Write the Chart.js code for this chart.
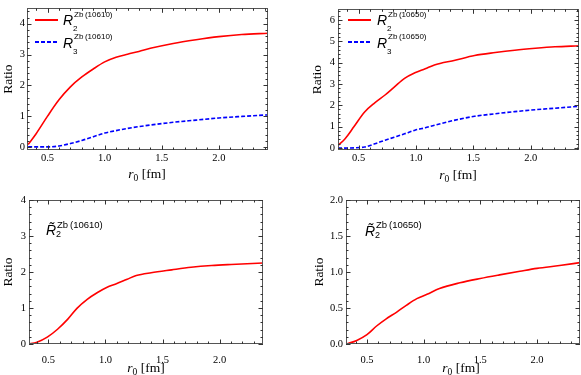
<!DOCTYPE html>
<html>
<head>
<meta charset="utf-8">
<script src="https://cdn.jsdelivr.net/npm/chart.js@4.4.1/dist/chart.umd.min.js"></script>
<style>
body { margin: 0; background: #fff; }
#wrap { position: relative; width: 581px; height: 375px; overflow: hidden; }
canvas { position: absolute; }
.t { position: absolute; white-space: nowrap; line-height: 1; color: #000; }
.serif { font-family: "Liberation Serif", "Times New Roman", serif; font-size: 13.5px; }
.sans { font-family: "Liberation Sans", Arial, sans-serif; }
.smp { position: absolute; width: 23px; height: 1.6px; }
.solid { background: #ff0000; }
.dash { background: repeating-linear-gradient(90deg, #0000ff 0 4px, transparent 4px 6px); }
</style>
</head>
<body>
<div id="wrap">
  <canvas id="cA" width="290" height="187" style="left:0;top:0"></canvas>
  <canvas id="cB" width="291" height="187" style="left:290px;top:0"></canvas>
  <canvas id="cC" width="290" height="188" style="left:0;top:187px"></canvas>
  <canvas id="cD" width="291" height="188" style="left:290px;top:187px"></canvas>

  <!-- x titles -->
  <div class="t serif" style="left:147px;top:167px;transform:translateX(-50%)"><i>r</i><sub style="font-size:9.5px;vertical-align:-3px">0</sub> [fm]</div>
  <div class="t serif" style="left:458px;top:168px;transform:translateX(-50%)"><i>r</i><sub style="font-size:9.5px;vertical-align:-3px">0</sub> [fm]</div>
  <div class="t serif" style="left:146px;top:361px;transform:translateX(-50%)"><i>r</i><sub style="font-size:9.5px;vertical-align:-3px">0</sub> [fm]</div>
  <div class="t serif" style="left:461px;top:361px;transform:translateX(-50%)"><i>r</i><sub style="font-size:9.5px;vertical-align:-3px">0</sub> [fm]</div>

  <!-- legend panel A -->
  <div class="smp solid" style="left:35px;top:19px"></div>
  <div class="t sans" style="left:63px;top:13.2px;font-size:14px"><i>R</i></div>
  <div class="t sans" style="left:74px;top:10.5px;font-size:8px">Zb&#8201;(10610)</div>
  <div class="t sans" style="left:73px;top:25px;font-size:8px">2</div>
  <div class="smp dash" style="left:35px;top:41px"></div>
  <div class="t sans" style="left:63px;top:35.5px;font-size:14px"><i>R</i></div>
  <div class="t sans" style="left:74px;top:33.2px;font-size:8px">Zb&#8201;(10610)</div>
  <div class="t sans" style="left:73px;top:48px;font-size:8px">3</div>

  <!-- legend panel B -->
  <div class="smp solid" style="left:348px;top:19px"></div>
  <div class="t sans" style="left:377px;top:13.2px;font-size:14px"><i>R</i></div>
  <div class="t sans" style="left:388px;top:10.5px;font-size:8px">Zb&#8201;(10650)</div>
  <div class="t sans" style="left:387px;top:25px;font-size:8px">2</div>
  <div class="smp dash" style="left:348px;top:41px"></div>
  <div class="t sans" style="left:377px;top:35.5px;font-size:14px"><i>R</i></div>
  <div class="t sans" style="left:388px;top:33.2px;font-size:8px">Zb&#8201;(10650)</div>
  <div class="t sans" style="left:387px;top:48px;font-size:8px">3</div>

  <!-- labels panels C, D -->
  <div class="t sans" style="left:46px;top:223px;font-size:14px"><i>R&#771;</i></div>
  <div class="t sans" style="left:57px;top:219.5px;font-size:9.5px">Zb&#8201;(10610)</div>
  <div class="t sans" style="left:56px;top:230px;font-size:9px">2</div>
  <div class="t sans" style="left:365px;top:224px;font-size:14px"><i>R&#771;</i></div>
  <div class="t sans" style="left:376px;top:220px;font-size:9.5px">Zb&#8201;(10650)</div>
  <div class="t sans" style="left:375px;top:230.5px;font-size:9px">2</div>
</div>

<script>
// ---- data ----
const X_TICKS = [0.5, 1.0, 1.5, 2.0];

// panel A: Zb(10610)
const R0_A     = [0.33, 0.40, 0.50, 0.60, 0.70, 0.80, 0.90, 1.00, 1.10, 1.20, 1.30, 1.40, 1.60, 1.80, 2.00, 2.20, 2.43];
const R2_10610 = [0.08, 0.43, 1.00, 1.53, 1.95, 2.27, 2.53, 2.76, 2.91, 3.01, 3.10, 3.20, 3.36, 3.48, 3.58, 3.65, 3.69];
const R3_10610 = [0.00, 0.00, 0.00, 0.03, 0.11, 0.21, 0.33, 0.45, 0.53, 0.60, 0.66, 0.71, 0.80, 0.87, 0.94, 0.99, 1.04];
const Y_TICKS_A = [0, 1, 2, 3, 4];

// panel B: Zb(10650)
const R0_B     = [0.32, 0.38, 0.46, 0.55, 0.64, 0.73, 0.81, 0.90, 0.99, 1.08, 1.16, 1.34, 1.51, 1.69, 1.86, 2.04, 2.21, 2.42];
const R2_10650 = [0.12, 0.42, 1.00, 1.67, 2.11, 2.48, 2.85, 3.26, 3.52, 3.71, 3.89, 4.11, 4.33, 4.47, 4.58, 4.67, 4.74, 4.79];
const R3_10650 = [0.00, -0.01, 0.00, 0.04, 0.19, 0.36, 0.50, 0.66, 0.83, 0.94, 1.06, 1.30, 1.48, 1.60, 1.70, 1.79, 1.86, 1.95];
const Y_TICKS_B = [0, 1, 2, 3, 4, 5, 6];

// panel C: R~2 Zb(10610)
const R0_C      = [0.32, 0.40, 0.49, 0.58, 0.67, 0.75, 0.84, 0.93, 1.01, 1.10, 1.19, 1.27, 1.40, 1.58, 1.75, 1.93, 2.10, 2.38];
const RT2_10610 = [0.00, 0.05, 0.19, 0.41, 0.69, 0.99, 1.24, 1.43, 1.57, 1.68, 1.80, 1.90, 1.98, 2.06, 2.13, 2.18, 2.21, 2.25];
const Y_TICKS_C = [0, 1, 2, 3, 4];

// panel D: R~2 Zb(10650)
const R0_D      = [0.32, 0.41, 0.50, 0.585, 0.67, 0.76, 0.85, 0.94, 1.03, 1.14, 1.32, 1.50, 1.67, 1.85, 2.00, 2.20, 2.38];
const RT2_10650 = [0.00, 0.05, 0.13, 0.25, 0.35, 0.44, 0.54, 0.63, 0.69, 0.77, 0.85, 0.91, 0.96, 1.01, 1.05, 1.09, 1.13];
const Y_TICKS_D = [0, 0.5, 1.0, 1.5, 2.0];

const SERIF = '"Liberation Serif", "Times New Roman", serif';

// frame + inward ticks on all four sides (Mathematica style)
const frameTicks = {
    id: 'frameTicks',
    afterDraw(chart, args, opts) {
        const {ctx, chartArea: a, scales: {x, y}} = chart;
        ctx.save();
        ctx.strokeStyle = '#555';
        ctx.lineWidth = 1;
        ctx.strokeRect(Math.round(a.left) + 0.5, Math.round(a.top) + 0.5,
                       Math.round(a.right - a.left) - 1, Math.round(a.bottom - a.top) - 1);
        ctx.strokeStyle = '#333';
        const majX = x.ticks.map(t => t.value), majY = y.ticks.map(t => t.value);
        const minors = (scale, step, majors) => {
            let out = [];
            for (let k = Math.ceil(scale.min / step - 1e-9); k * step <= scale.max + 1e-9; k++) {
                let v = +(k * step).toFixed(6);
                if (!majors.some(m => Math.abs(m - v) < 1e-6)) out.push(v);
            }
            return out;
        };
        const vx = (v, len) => {
            let p = Math.round(x.getPixelForValue(v)) + 0.5;
            ctx.beginPath();
            ctx.moveTo(p, a.bottom); ctx.lineTo(p, a.bottom - len);
            ctx.moveTo(p, a.top); ctx.lineTo(p, a.top + len);
            ctx.stroke();
        };
        const hy = (v, len) => {
            let p = Math.round(y.getPixelForValue(v)) + 0.5;
            ctx.beginPath();
            ctx.moveTo(a.left, p); ctx.lineTo(a.left + len, p);
            ctx.moveTo(a.right, p); ctx.lineTo(a.right - len, p);
            ctx.stroke();
        };
        majX.forEach(v => vx(v, 4.5));
        minors(x, opts.minorX, majX).forEach(v => vx(v, 2.5));
        majY.forEach(v => hy(v, 4.5));
        minors(y, opts.minorY, majY).forEach(v => hy(v, 2.5));
        ctx.restore();
    }
};

function toPts(xs, ys) {
    return xs.map((x, i) => ({x: x, y: ys[i]}));
}

function makeChart(id, c) {
    const sets = c.series.map(s => ({
        data: toPts(s.x, s.y),
        borderColor: s.color,
        borderWidth: 1.6,
        borderDash: s.dash || [],
        pointRadius: 0,
        cubicInterpolationMode: 'monotone',
        fill: false
    }));
    return new Chart(document.getElementById(id), {
        type: 'line',
        data: {datasets: sets},
        plugins: [frameTicks],
        options: {
            responsive: false,
            animation: false,
            events: [],
            layout: {padding: c.pad},
            plugins: {
                legend: {display: false},
                tooltip: {enabled: false},
                frameTicks: {minorX: 0.1, minorY: c.minorY}
            },
            scales: {
                x: {
                    type: 'linear',
                    min: c.xmin, max: c.xmax,
                    afterBuildTicks: s => { s.ticks = X_TICKS.map(v => ({value: v})); },
                    afterFit: s => { s.height = c.xh; },
                    grid: {display: false, drawTicks: false},
                    border: {display: false},
                    ticks: {
                        callback: v => v.toFixed(1),
                        font: {family: SERIF, size: 10.5},
                        color: '#000',
                        padding: c.xpad,
                        maxRotation: 0,
                        autoSkip: false
                    }
                },
                y: {
                    type: 'linear',
                    min: c.ymin, max: c.ymax,
                    afterBuildTicks: s => { s.ticks = c.yticks.map(v => ({value: v})); },
                    afterFit: s => { s.width = c.yw; },
                    grid: {display: false, drawTicks: false},
                    border: {display: false},
                    title: {
                        display: true,
                        text: 'Ratio',
                        font: {family: SERIF, size: 13.5},
                        color: '#000',
                        padding: {top: c.tpad, bottom: 0}
                    },
                    ticks: {
                        callback: c.yfmt,
                        font: {family: SERIF, size: 10.5},
                        color: '#000',
                        padding: c.ypad,
                        autoSkip: false
                    }
                }
            }
        }
    });
}

const intFmt = v => String(v);
const oneDec = v => v.toFixed(1);

makeChart('cA', {
    series: [
        {x: R0_A, y: R2_10610, color: '#ff0000'},
        {x: R0_A, y: R3_10610, color: '#0000ff', dash: [4, 2]}
    ],
    xmin: 0.32, xmax: 2.43, ymin: -0.1, ymax: 4.5, yticks: Y_TICKS_A, yfmt: intFmt,
    pad: {left: 0, right: 22, top: 2, bottom: 0}, yw: 27, xh: 37,
    xpad: 2, ypad: 2, tpad: 0, minorY: 0.2
});
makeChart('cB', {
    series: [
        {x: R0_B, y: R2_10650, color: '#ff0000'},
        {x: R0_B, y: R3_10650, color: '#0000ff', dash: [4, 2]}
    ],
    xmin: 0.32, xmax: 2.42, ymin: -0.1, ymax: 6.5, yticks: Y_TICKS_B, yfmt: intFmt,
    pad: {left: 0, right: 2, top: 2, bottom: 0}, yw: 48, xh: 37,
    xpad: 2, ypad: 3, tpad: 19, minorY: 0.2
});
makeChart('cC', {
    series: [{x: R0_C, y: RT2_10610, color: '#ff0000'}],
    xmin: 0.33, xmax: 2.38, ymin: 0, ymax: 4, yticks: Y_TICKS_C, yfmt: intFmt,
    pad: {left: 0, right: 27, top: 13, bottom: 0}, yw: 29, xh: 31,
    xpad: 10, ypad: 3, tpad: 0, minorY: 0.2
});
makeChart('cD', {
    series: [{x: R0_D, y: RT2_10650, color: '#ff0000'}],
    xmin: 0.315, xmax: 2.38, ymin: 0, ymax: 2, yticks: Y_TICKS_D, yfmt: oneDec,
    pad: {left: 0, right: 1, top: 13, bottom: 0}, yw: 56, xh: 31,
    xpad: 10, ypad: 3, tpad: 21, minorY: 0.1
});
</script>
</body>
</html>
